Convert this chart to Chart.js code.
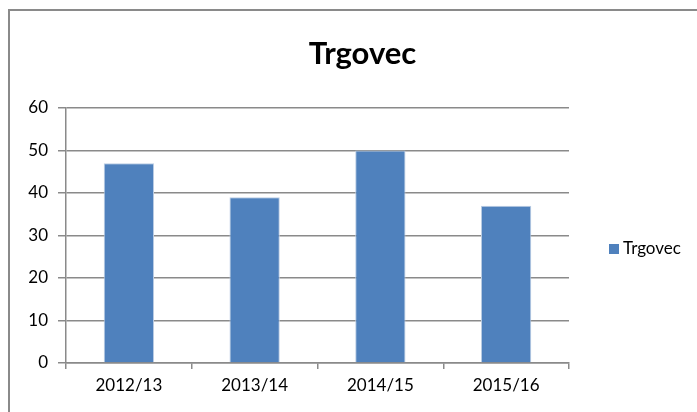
<!DOCTYPE html>
<html>
<head>
<meta charset="utf-8">
<script src="https://cdn.jsdelivr.net/npm/chart.js@4.4.1/dist/chart.umd.min.js"></script>
<style>
  html, body { margin: 0; background: #fff; overflow: hidden; }
  #wrap { position: relative; width: 697px; height: 412px; overflow: hidden; }
  #frame { position: absolute; left: 8px; top: 9px; right: 0; bottom: 0; border-left: 2px solid #8a8a8a; border-top: 2px solid #8a8a8a; }
  #title { position: absolute; left: 0; width: 725px; top: 32px; text-align: center; font: bold 31px Lato, sans-serif; line-height: 40px; color: #000; }
  #legend { position: absolute; left: 609px; top: 237px; font: 17px Lato, sans-serif; line-height: 22px; color: #000; white-space: nowrap; }
  #legend span { display: inline-block; width: 10px; height: 10px; background: #4f81bd; margin-right: 4px; }
  canvas { position: absolute; left: 0; top: 0; }
</style>
</head>
<body>
<div id="wrap">
  <div id="frame"></div>
  <canvas id="chart" width="697" height="412"></canvas>
  <div id="title">Trgovec</div>
  <div id="legend"><span></span>Trgovec</div>
</div>
<script>
// Trgovec chart data
const seasons = ['2012/13', '2013/14', '2014/15', '2015/16'];
const trgovecValues = [47, 39, 50, 37];
const seriesName = 'Trgovec';

const gridColor = '#8a8a8a';

function buildChart() {
  const ctx = document.getElementById('chart');

  new Chart(ctx, {
    type: 'bar',
    data: {
      labels: seasons,
      datasets: [{
        label: seriesName,
        data: trgovecValues,
        backgroundColor: '#4f81bd',
        borderColor: '#bccde4',
        borderWidth: 1,
        barPercentage: 0.4,
        categoryPercentage: 1.0
      }]
    },
    options: {
      responsive: false,
      animation: false,
      layout: {
        padding: { left: 0, right: 128, top: 108, bottom: 0 }
      },
      plugins: {
        legend: { display: false },
        title: { display: false },
        tooltip: { enabled: false }
      },
      scales: {
        x: {
          afterFit: (scale) => { scale.height = 49; },
          grid: {
            display: true,
            offset: true,
            drawOnChartArea: false,
            drawTicks: true,
            tickLength: 6,
            color: gridColor,
            lineWidth: 1.5
          },
          border: { display: true, color: gridColor, width: 1.5 },
          ticks: {
            color: '#000',
            padding: 6,
            font: { family: 'Lato, sans-serif', size: 17 }
          }
        },
        y: {
          min: 0,
          max: 60,
          afterFit: (scale) => { scale.width = 66; },
          grid: {
            color: gridColor,
            lineWidth: 1.5,
            tickLength: 8
          },
          border: { display: true, color: gridColor, width: 1.5 },
          ticks: {
            stepSize: 10,
            color: '#000',
            padding: 10,
            font: { family: 'Lato, sans-serif', size: 17 }
          }
        }
      }
    }
  });
}

window.addEventListener('DOMContentLoaded', buildChart);
</script>
</body>
</html>
